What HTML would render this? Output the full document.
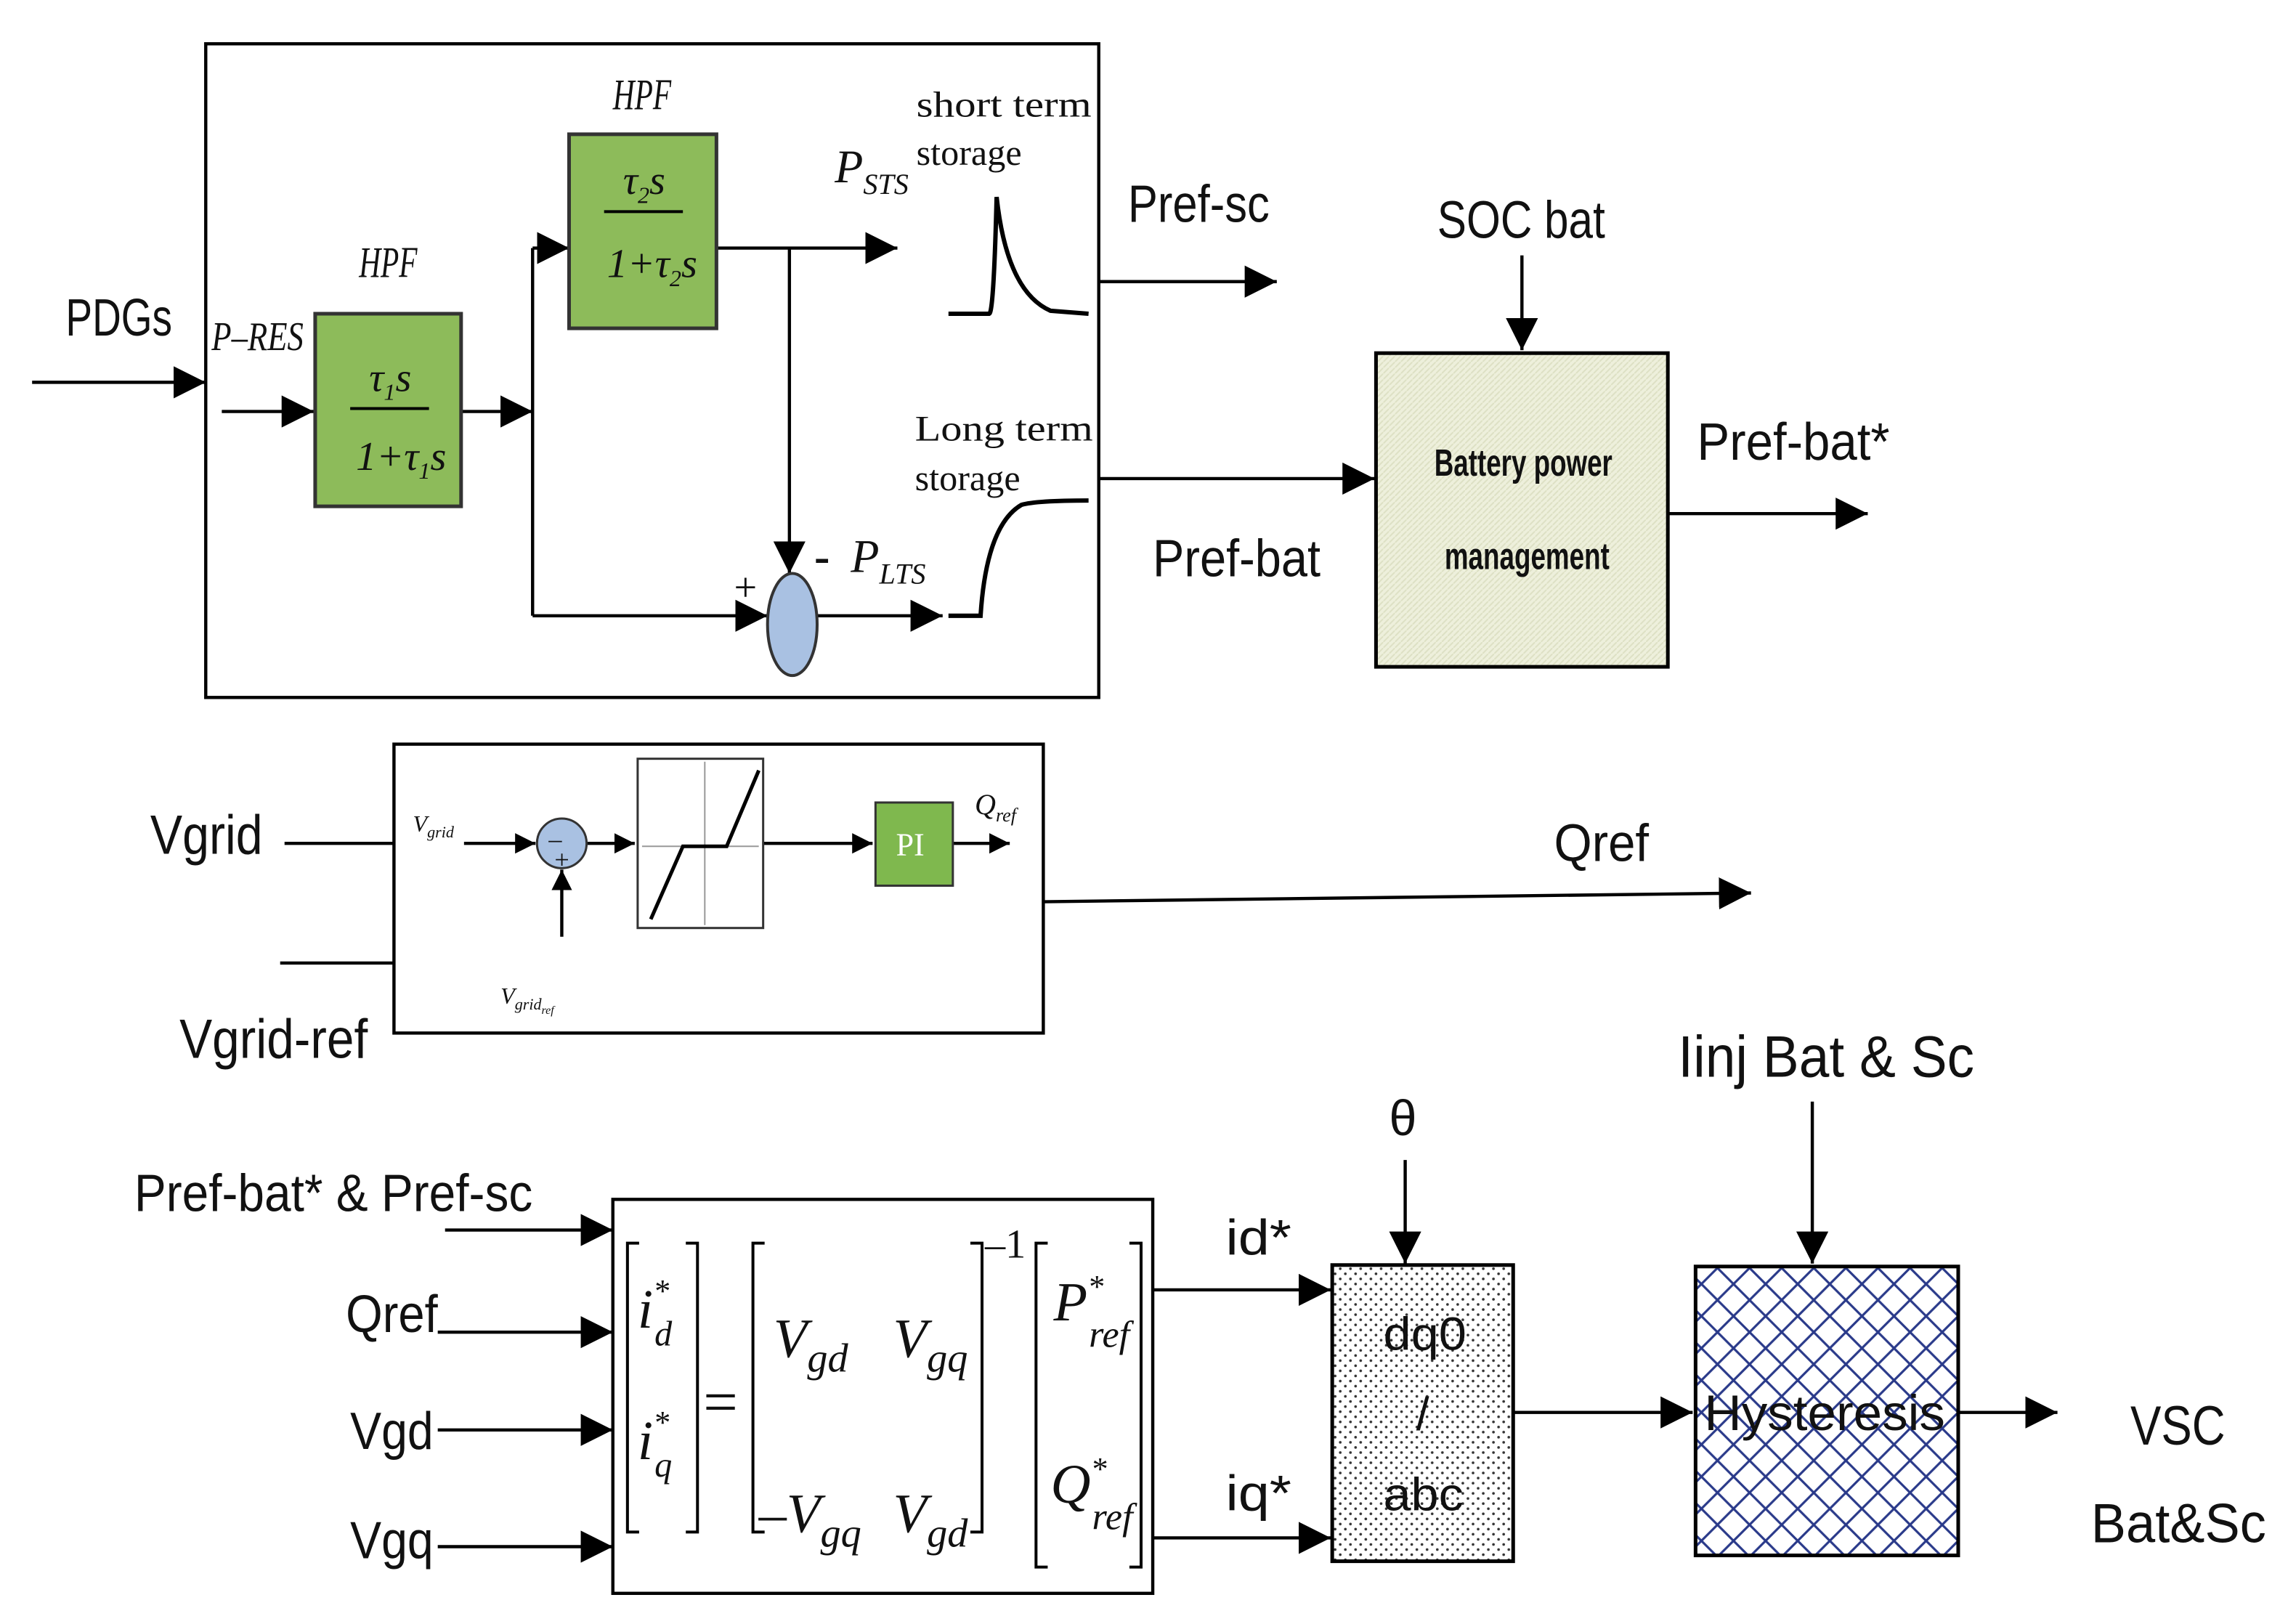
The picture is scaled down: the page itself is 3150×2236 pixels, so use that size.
<!DOCTYPE html>
<html><head><meta charset="utf-8"><style>
html,body{margin:0;padding:0;background:#fff;}
svg{display:block;}
.t{font-family:"Liberation Sans Narrow","Liberation Sans",sans-serif;fill:#111;}
.s{font-family:"Liberation Serif",serif;fill:#111;}
</style></head><body>
<svg width="3150" height="2236" viewBox="0 0 1568 1113" xmlns="http://www.w3.org/2000/svg">
<defs>
<marker id="A" viewBox="0 0 10 10" refX="10" refY="5" markerWidth="22" markerHeight="22" orient="auto" markerUnits="userSpaceOnUse"><path d="M0,0L10,5L0,10z" fill="#000"/></marker>
<marker id="m" viewBox="0 0 10 10" refX="10" refY="5" markerWidth="14" markerHeight="14" orient="auto" markerUnits="userSpaceOnUse"><path d="M0,0L10,5L0,10z" fill="#000"/></marker>
<pattern id="dots" width="7" height="7" patternUnits="userSpaceOnUse"><rect width="7" height="7" fill="#fff"/><circle cx="1.5" cy="1.5" r="0.9" fill="#333"/><circle cx="5" cy="5" r="0.9" fill="#333"/></pattern>
<pattern id="hatch" width="22" height="22" patternUnits="userSpaceOnUse"><rect width="22" height="22" fill="#fff"/><path d="M0,0L22,22M22,0L0,22" stroke="#2a3a8a" stroke-width="1.6"/></pattern>
<pattern id="lt" width="4" height="4" patternUnits="userSpaceOnUse"><rect width="4" height="4" fill="#eef0dc"/><path d="M0,4L4,0" stroke="#dde0c4" stroke-width="1"/></pattern>
</defs>
<g stroke="#000" stroke-width="2.2" fill="none">
<rect x="141" y="30" width="612" height="448"/>
<line x1="22" y1="262" x2="141" y2="262" marker-end="url(#A)"/>
<line x1="152" y1="282" x2="215" y2="282" marker-end="url(#A)"/>
<line x1="316" y1="282" x2="365" y2="282" marker-end="url(#A)"/>
<polyline points="365,282 365,170"/>
<line x1="365" y1="170" x2="390" y2="170" marker-end="url(#A)"/>
<polyline points="365,282 365,422"/>
<line x1="365" y1="422" x2="526" y2="422" marker-end="url(#A)"/>
<line x1="491" y1="170" x2="615" y2="170" marker-end="url(#A)"/>
<line x1="541" y1="170" x2="541" y2="393" marker-end="url(#A)"/>
<line x1="560" y1="422" x2="646" y2="422" marker-end="url(#A)"/>
<path d="M650,215 L678,215 Q681,214 683,135 Q690,200 720,213 L746,215" stroke-width="3"/>
<path d="M650,422 L672,422 Q676,360 700,346 Q710,343 746,343" stroke-width="3"/>
<line x1="753" y1="193" x2="875" y2="193" marker-end="url(#A)"/>
<line x1="753" y1="328" x2="942" y2="328" marker-end="url(#A)"/>
<line x1="1043" y1="175" x2="1043" y2="240" marker-end="url(#A)"/>
<line x1="1143" y1="352" x2="1280" y2="352" marker-end="url(#A)"/>
<rect x="270" y="510" width="445" height="198"/>
<line x1="195" y1="578" x2="270" y2="578"/>
<polyline points="192,660 270,660"/>
<line x1="318" y1="578" x2="367" y2="578" marker-end="url(#m)"/>
<line x1="385" y1="642" x2="385" y2="596" marker-end="url(#m)"/>
<line x1="402" y1="578" x2="435" y2="578" marker-end="url(#m)"/>
<line x1="523" y1="578" x2="598" y2="578" marker-end="url(#m)"/>
<line x1="653" y1="578" x2="692" y2="578" marker-end="url(#m)"/>
<line x1="715" y1="618" x2="1200" y2="612" marker-end="url(#A)"/>
<line x1="305" y1="843" x2="420" y2="843" marker-end="url(#A)"/>
<line x1="300" y1="913" x2="420" y2="913" marker-end="url(#A)"/>
<line x1="300" y1="980" x2="420" y2="980" marker-end="url(#A)"/>
<line x1="300" y1="1060" x2="420" y2="1060" marker-end="url(#A)"/>
<rect x="420" y="822" width="370" height="270"/>
<line x1="790" y1="884" x2="912" y2="884" marker-end="url(#A)"/>
<line x1="790" y1="1054" x2="912" y2="1054" marker-end="url(#A)"/>
<line x1="963" y1="795" x2="963" y2="866" marker-end="url(#A)"/>
<line x1="1037" y1="968" x2="1160" y2="968" marker-end="url(#A)"/>
<line x1="1242" y1="755" x2="1242" y2="866" marker-end="url(#A)"/>
<line x1="1342" y1="968" x2="1410" y2="968" marker-end="url(#A)"/>
</g>
<rect x="216" y="215" width="100" height="132" fill="#8dbb5a" stroke="#333" stroke-width="2.5"/>
<rect x="390" y="92" width="101" height="133" fill="#8dbb5a" stroke="#333" stroke-width="2.5"/>
<ellipse cx="543" cy="428" rx="17" ry="35" fill="#a9c1e2" stroke="#333" stroke-width="2"/>
<rect x="943" y="242" width="200" height="215" fill="url(#lt)" stroke="#000" stroke-width="2.5"/>
<circle cx="385" cy="578" r="17" fill="#a9c1e2" stroke="#333" stroke-width="1.5"/>
<rect x="437" y="520" width="86" height="116" fill="#fff" stroke="#333" stroke-width="1.5"/>
<line x1="483" y1="522" x2="483" y2="634" stroke="#999" stroke-width="1"/>
<line x1="440" y1="580" x2="520" y2="580" stroke="#999" stroke-width="1"/>
<polyline points="446,630 468,580 498,580 520,528" fill="none" stroke="#000" stroke-width="2.5"/>
<rect x="600" y="550" width="53" height="57" fill="#7fb84e" stroke="#333" stroke-width="1.5"/>
<rect x="913" y="867" width="124" height="203" fill="url(#dots)" stroke="#000" stroke-width="2.5"/>
<rect x="1162" y="868" width="180" height="198" fill="url(#hatch)" stroke="#000" stroke-width="2.5"/>
<line x1="240" y1="280" x2="294" y2="280" stroke="#000" stroke-width="2"/>
<line x1="414" y1="145" x2="468" y2="145" stroke="#000" stroke-width="2"/>
<g class="s" font-style="italic">
<text x="246" y="190" font-size="30" textLength="40" lengthAdjust="spacingAndGlyphs">HPF</text>
<text x="420" y="75" font-size="30" textLength="40" lengthAdjust="spacingAndGlyphs">HPF</text>
<text x="145" y="240" font-size="28" textLength="63" lengthAdjust="spacingAndGlyphs">P–RES</text>
<text x="253" y="268" font-size="28">τ<tspan font-size="16" dy="6">1</tspan><tspan dy="-6">s</tspan></text>
<text x="244" y="322" font-size="28">1+τ<tspan font-size="16" dy="6">1</tspan><tspan dy="-6">s</tspan></text>
<text x="427" y="133" font-size="28">τ<tspan font-size="16" dy="6">2</tspan><tspan dy="-6">s</tspan></text>
<text x="416" y="190" font-size="28">1+τ<tspan font-size="16" dy="6">2</tspan><tspan dy="-6">s</tspan></text>
<text x="572" y="125" font-size="32">P<tspan font-size="20" dy="8">STS</tspan></text>
<text x="583" y="392" font-size="32">P<tspan font-size="20" dy="8">LTS</tspan></text>
<text x="283" y="570" font-size="16">V<tspan font-size="11" dy="4">grid</tspan></text>
<text x="343" y="688" font-size="16">V<tspan font-size="11" dy="4">grid</tspan><tspan font-size="8" dy="3">ref</tspan></text>
<text x="668" y="558" font-size="20">Q<tspan font-size="13" dy="5">ref</tspan></text>
</g>
<g class="s">
<text x="628" y="80" font-size="25" textLength="120" lengthAdjust="spacingAndGlyphs">short term</text>
<text x="628" y="113" font-size="25">storage</text>
<text x="627" y="302" font-size="25" textLength="122" lengthAdjust="spacingAndGlyphs">Long term</text>
<text x="627" y="336" font-size="25">storage</text>
<text x="503" y="412" font-size="28">+</text>
<text x="558" y="392" font-size="32" font-weight="bold">-</text>
<text x="376" y="581" font-size="18">–</text>
<text x="380" y="595" font-size="18">+</text>
<text x="614" y="586" font-size="22" fill="#fff">PI</text>
</g>
<g class="t" lengthAdjust="spacingAndGlyphs">
<text x="45" y="230" font-size="36" textLength="73" lengthAdjust="spacingAndGlyphs">PDGs</text>
<text x="773" y="152" font-size="36" textLength="97" lengthAdjust="spacingAndGlyphs">Pref-sc</text>
<text x="985" y="163" font-size="36" textLength="115" lengthAdjust="spacingAndGlyphs">SOC bat</text>
<text x="790" y="395" font-size="36" textLength="115" lengthAdjust="spacingAndGlyphs">Pref-bat</text>
<text x="1163" y="315" font-size="36" textLength="132" lengthAdjust="spacingAndGlyphs">Pref-bat*</text>
<text x="983" y="326" font-size="26" font-weight="bold" textLength="122" lengthAdjust="spacingAndGlyphs">Battery power</text>
<text x="990" y="390" font-size="26" font-weight="bold" textLength="113" lengthAdjust="spacingAndGlyphs">management</text>
<text x="103" y="585" font-size="38" textLength="77" lengthAdjust="spacingAndGlyphs">Vgrid</text>
<text x="123" y="725" font-size="38" textLength="129" lengthAdjust="spacingAndGlyphs">Vgrid-ref</text>
<text x="1065" y="590" font-size="36" textLength="65" lengthAdjust="spacingAndGlyphs">Qref</text>
<text x="92" y="830" font-size="36" textLength="273" lengthAdjust="spacingAndGlyphs">Pref-bat* &amp; Pref-sc</text>
<text x="237" y="913" font-size="36" textLength="63" lengthAdjust="spacingAndGlyphs">Qref</text>
<text x="240" y="993" font-size="36" textLength="57" lengthAdjust="spacingAndGlyphs">Vgd</text>
<text x="240" y="1068" font-size="36" textLength="57" lengthAdjust="spacingAndGlyphs">Vgq</text>
<text x="840" y="860" font-size="34" textLength="45" lengthAdjust="spacingAndGlyphs">id*</text>
<text x="840" y="1035" font-size="34" textLength="45" lengthAdjust="spacingAndGlyphs">iq*</text>
<text x="952" y="778" font-size="34">θ</text>
<text x="1150" y="738" font-size="40" textLength="203" lengthAdjust="spacingAndGlyphs">Iinj Bat &amp; Sc</text>
<text x="948" y="925" font-size="32" textLength="57" lengthAdjust="spacingAndGlyphs">dq0</text>
<text x="975" y="980" font-size="32" text-anchor="middle">/</text>
<text x="948" y="1035" font-size="32" textLength="55" lengthAdjust="spacingAndGlyphs">abc</text>
<text x="1168" y="980" font-size="34" textLength="165" lengthAdjust="spacingAndGlyphs">Hysteresis</text>
<text x="1460" y="990" font-size="38" textLength="65" lengthAdjust="spacingAndGlyphs">VSC</text>
<text x="1433" y="1057" font-size="38" textLength="120" lengthAdjust="spacingAndGlyphs">Bat&amp;Sc</text>
</g>
<g class="s" font-style="italic" font-size="38">
<path d="M438,852 h-8 v198 h8 M470,852 h8 v198 h-8 M524,852 h-8 v198 h8 M665,852 h8 v198 h-8 M718,852 h-8 v222 h8 M774,852 h8 v222 h-8" fill="none" stroke="#000" stroke-width="2"/>
<text x="437" y="910">i<tspan font-size="22" dy="-18">*</tspan><tspan font-size="24" dx="-10" dy="30">d</tspan></text>
<text x="437" y="1000">i<tspan font-size="22" dy="-18">*</tspan><tspan font-size="24" dx="-10" dy="30">q</tspan></text>
<text x="482" y="975" font-style="normal" font-size="42">=</text>
<text x="530" y="930">V<tspan font-size="28" dy="10">gd</tspan></text>
<text x="612" y="930">V<tspan font-size="28" dy="10">gq</tspan></text>
<text x="520" y="1050">–V<tspan font-size="28" dy="10">gq</tspan></text>
<text x="612" y="1050">V<tspan font-size="28" dy="10">gd</tspan></text>
<text x="675" y="862" font-style="normal" font-size="28">–1</text>
<text x="722" y="905">P<tspan font-size="22" dy="-16">*</tspan><tspan font-size="26" dx="-10" dy="34">ref</tspan></text>
<text x="720" y="1030">Q<tspan font-size="22" dy="-16">*</tspan><tspan font-size="26" dx="-10" dy="34">ref</tspan></text>
</g>
</svg>
</body></html>
